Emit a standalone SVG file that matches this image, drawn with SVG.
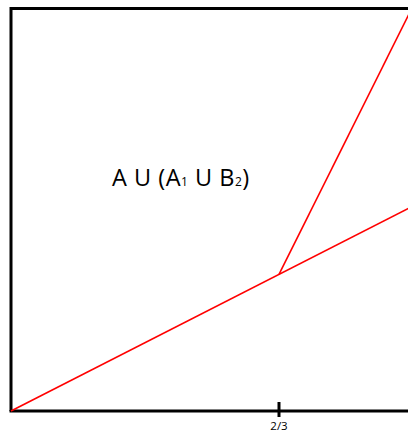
<svg xmlns="http://www.w3.org/2000/svg" width="408" height="432" viewBox="0 0 408 432">
<style>
.frame{fill:none;stroke:#000;stroke-width:3}
.red{fill:none;stroke:#f00;stroke-width:1.6}
.lbl{font-family:"Open Sans","DejaVu Sans",sans-serif;fill:#000}
</style>
<rect width="408" height="432" fill="#fff"/>
<g id="frame">
<polyline class="frame" points="11,410 11,411 420,411" />
<polyline class="frame" points="11,411 11,8.5 420,8.5" />
<line class="frame" x1="279" y1="402" x2="279" y2="417"/>
<text class="lbl" x="279" y="430" font-size="11.5" text-anchor="middle">2/3</text>
</g>
<g id="connectors">
<line class="red" x1="11" y1="411" x2="420" y2="202.5"/>
<line class="red" x1="279" y1="274.4" x2="414" y2="4"/>
</g>
<g id="label">
<text class="lbl" x="112" y="186" font-size="23.5" letter-spacing="0.5">A U (A<tspan font-size="12">1</tspan> U B<tspan font-size="12">2</tspan>)</text>
</g>
</svg>
